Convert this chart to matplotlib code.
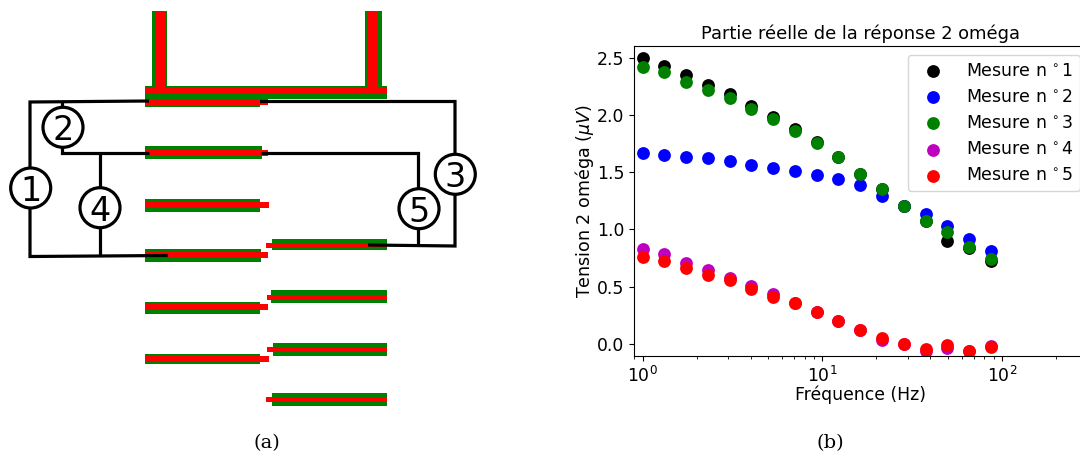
#!/usr/bin/env python
"""plot.py - electrode wiring sketch (a) and 2 omega response vs frequency (b)."""
import matplotlib
matplotlib.use("Agg")
import matplotlib.pyplot as plt
from matplotlib.patches import Circle, Rectangle

W, H = 1080, 457

freq = [1.0, 1.32, 1.75, 2.31, 3.05, 4.03, 5.33, 7.05, 9.3, 12.3, 16.3, 21.5,
        28.5, 37.6, 49.7, 65.7, 86.9]
mesure1 = [2.50, 2.43, 2.345, 2.26, 2.18, 2.08, 1.985, 1.88, 1.765, 1.63, 1.48,
           1.35, 1.20, 1.07, 0.90, 0.84, 0.725]
mesure2 = [1.67, 1.645, 1.635, 1.625, 1.595, 1.565, 1.535, 1.51, 1.475, 1.44,
           1.385, 1.29, 1.205, 1.135, 1.03, 0.92, 0.815]
mesure3 = [2.42, 2.37, 2.285, 2.215, 2.145, 2.055, 1.965, 1.855, 1.75, 1.635,
           1.485, 1.355, 1.20, 1.075, 0.98, 0.846, 0.744]
mesure4 = [0.825, 0.785, 0.71, 0.645, 0.575, 0.51, 0.435, 0.355, 0.28, 0.20,
           0.12, 0.035, 0.0, -0.058, -0.035, -0.06, -0.02]
mesure5 = [0.76, 0.725, 0.66, 0.60, 0.555, 0.48, 0.41, 0.355, 0.275, 0.197,
           0.12, 0.055, 0.0, -0.04, -0.01, -0.058, -0.023]
series = [mesure1, mesure2, mesure3, mesure4, mesure5]
colors = ["k", "b", "#008000", "#bf00bf", "r"]

# sketch geometry, image pixels: (x0, x1, y0, y1)
green_bars = [(152, 167, 11, 86), (365, 382, 11, 86), (145, 387, 86, 99),
              (145, 260, 99, 106.7), (145, 262, 146, 158.7), (145, 260, 199, 212),
              (145, 261, 249, 262), (145, 260, 302, 314), (145, 260, 354, 364),
              (272, 387, 239, 250), (271, 387, 290, 303), (273, 387, 343, 356),
              (272, 387, 393, 406)]
red_bars = [(156, 165.3, 11, 93), (368, 377, 11, 93), (145, 387, 87.7, 93),
            (145, 268, 99, 105.3), (145, 268, 149.7, 156), (145, 269, 202, 208),
            (145, 268, 252, 258), (145, 268, 303.7, 310), (145, 269, 355.7, 362),
            (266, 387, 243, 248.3), (266.7, 387, 295, 300.3), (267, 387, 346.7, 352),
            (266, 387, 397, 402)]
wires = [[(149, 101), (30, 102), (30, 256.5), (168, 255.5)],
         [(62, 101), (62, 153), (149, 153)],
         [(100, 153), (100, 255.5)],
         [(260, 101.5), (455, 101.5), (455, 246), (368, 245)],
         [(261, 152.5), (417.5, 152.5), (417.5, 245)]]
meters = [("1", 30.7, 188), ("2", 63, 127.3), ("4", 100, 207.7),
          ("3", 455.3, 174.3), ("5", 419, 208.7)]

fig = plt.figure(figsize=(W / 100, H / 100), dpi=100)

sk = fig.add_axes([0, 0, 1, 1])
sk.set_xlim(0, W)
sk.set_ylim(H, 0)
sk.axis("off")
for x0, x1, y0, y1 in green_bars:
    sk.add_patch(Rectangle((x0, y0), x1 - x0, y1 - y0, color="#008000", lw=0, zorder=1))
for x0, x1, y0, y1 in red_bars:
    sk.add_patch(Rectangle((x0, y0), x1 - x0, y1 - y0, color="#ff0000", lw=0, zorder=2))
for w in wires:
    sk.plot([p[0] for p in w], [p[1] for p in w], color="k", lw=2.3,
            solid_joinstyle="miter", solid_capstyle="butt", zorder=3)
for lab, cx, cy in meters:
    sk.add_patch(Circle((cx, cy), 20, fc="white", ec="k", lw=2.3, zorder=4))
    sk.text(cx, cy, lab, fontsize=24, ha="center", va="center_baseline", zorder=5)
sk.text(267, 443, "(a)", family="DejaVu Serif", fontsize=14, ha="center", va="center")
sk.text(830, 443, "(b)", family="DejaVu Serif", fontsize=14, ha="center", va="center")

# right edge sits past the image border, so the right spine is cut off
left, right, top, bottom = 634.3, 1086, 45.7, 355.7
ax = fig.add_axes([left / W, 1 - bottom / H, (right - left) / W, (bottom - top) / H])
for i, (vals, c) in enumerate(zip(series, colors)):
    ax.scatter(freq, vals, s=85, color=c, lw=0, label=f"Mesure n$\\,^\\circ${i + 1}")
ax.set_xscale("log")
ax.set_xlim(0.9, 294)
ax.set_ylim(-0.102, 2.603)
ax.set_yticks([0.0, 0.5, 1.0, 1.5, 2.0, 2.5])
ax.tick_params(labelsize=12.4)
ax.set_xlabel("Fréquence (Hz)", fontsize=12.4, labelpad=0)
ax.set_ylabel("Tension 2 oméga ($\\mu V$)", fontsize=12.6, labelpad=1)
ax.set_title("Partie réelle de la réponse 2 oméga", fontsize=12.85, pad=5)
ax.legend(loc="upper left", bbox_to_anchor=(908 / W, 1 - 55 / H),
          bbox_transform=fig.transFigure, fontsize=12.5, borderaxespad=0,
          handletextpad=0.83, handlelength=2.13, borderpad=0.38, labelspacing=0.47)

fig.savefig("out.png", dpi=100)
